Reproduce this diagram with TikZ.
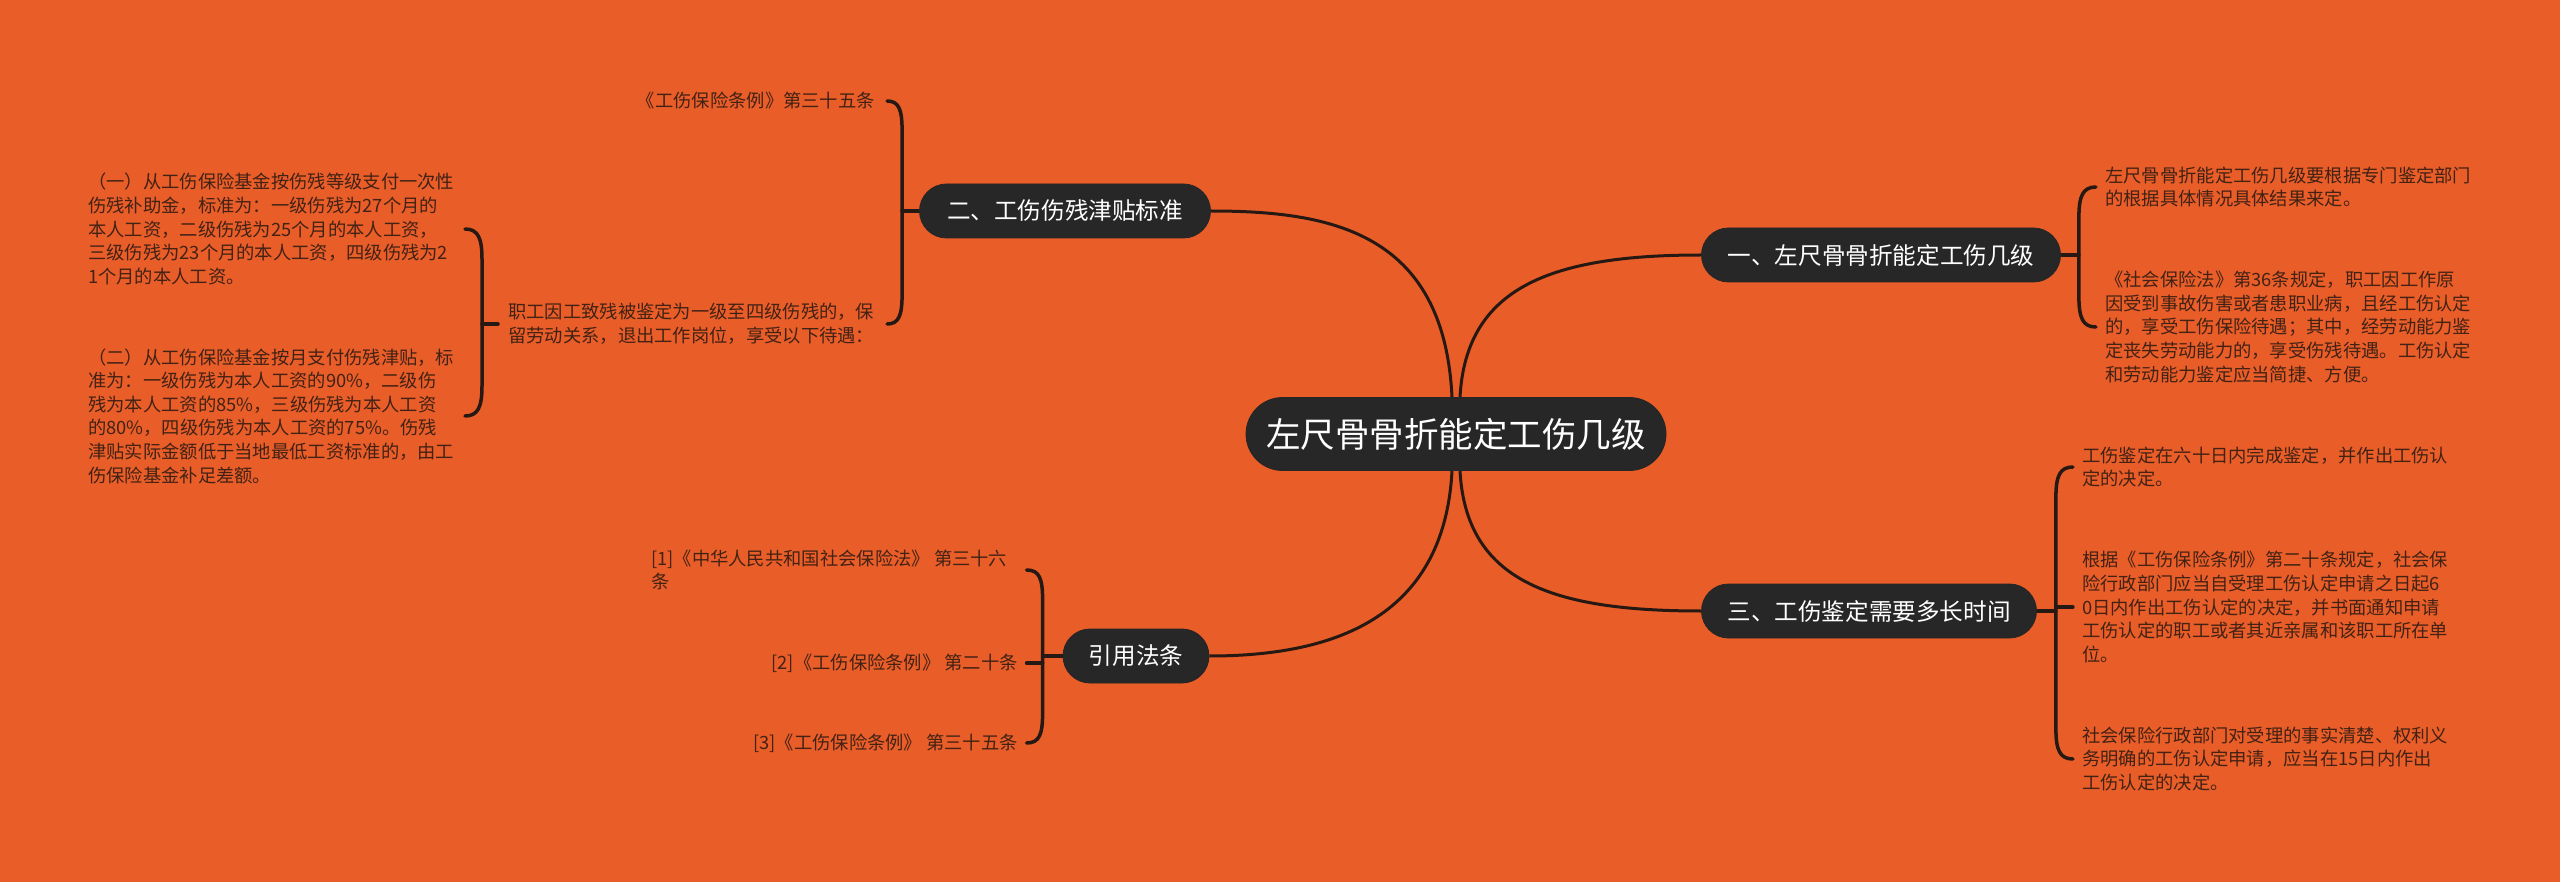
\documentclass[tikz,border=0pt]{standalone}
\usepackage{fontspec}
\setmainfont{Noto Sans CJK SC}
\usetikzlibrary{calc}
\definecolor{bgc}{RGB}{233,93,41}
\definecolor{nodefill}{RGB}{39,39,39}
\definecolor{linec}{RGB}{38,24,18}
\definecolor{leafc}{RGB}{66,34,20}
\pgfdeclarelayer{bglayer}
\pgfdeclarelayer{linelayer}
\pgfsetlayers{bglayer,linelayer,main}
\newcommand{\mmbrace}[4]{%
  \draw[brace] (#1) .. controls ($(#1)+(#4,0)$) and ($(#1)+(#3,9)$) .. ($(#1)+(#3,30)$)
    -- ($(#2)+(#3,-30)$) .. controls ($(#2)+(#3,-9)$) and ($(#2)+(#4,0)$) .. (#2);}
\begin{document}
\begin{tikzpicture}[x=1pt,y=-1pt,
  pill/.style={draw=black!85, line width=0.8pt, fill=nodefill, text=white, inner sep=0pt,
    minimum height=54pt, rounded corners=27pt, font=\fontsize{23.6}{28}\selectfont},
  root/.style={pill, minimum height=73pt, rounded corners=36.5pt, font=\fontsize{34.5}{40}\selectfont},
  leaf/.style={text=leafc, inner sep=0pt, align=left, font=\fontsize{18.3}{23.6}\selectfont},
  link/.style={draw=linec, line width=3pt},
  brace/.style={draw=linec, line width=3.5pt, line cap=round}]
\begin{pgfonlayer}{bglayer}
\fill[bgc] (0,0) rectangle (2560,882);
\end{pgfonlayer}
\useasboundingbox (0,0) rectangle (2560,882);

% main nodes
\node[root, minimum width=420pt] (C) at (1456,434) {左尺骨骨折能定工伤几级};
\node[pill, minimum width=291pt] (B2) at (1065,211) {二、工伤伤残津贴标准};
\node[pill, minimum width=359pt] (B1) at (1881,255) {一、左尺骨骨折能定工伤几级};
\node[pill, minimum width=335pt] (B3) at (1869,611) {三、工伤鉴定需要多长时间};
\node[pill, minimum width=146pt] (B4) at (1136,656) {引用法条};

% branch 1 leaves
\node[leaf, anchor=west] (L11) at (2105,187) {左尺骨骨折能定工伤几级要根据专门鉴定部门\\的根据具体情况具体结果来定。};
\node[leaf, anchor=west] (L12) at (2105,327) {《社会保险法》第36条规定，职工因工作原\\因受到事故伤害或者患职业病，且经工伤认定\\的，享受工伤保险待遇；其中，经劳动能力鉴\\定丧失劳动能力的，享受伤残待遇。工伤认定\\和劳动能力鉴定应当简捷、方便。};

% branch 3 leaves
\node[leaf, anchor=west] (L31) at (2082,467) {工伤鉴定在六十日内完成鉴定，并作出工伤认\\定的决定。};
\node[leaf, anchor=west] (L32) at (2082,607) {根据《工伤保险条例》第二十条规定，社会保\\险行政部门应当自受理工伤认定申请之日起6\\0日内作出工伤认定的决定，并书面通知申请\\工伤认定的职工或者其近亲属和该职工所在单\\位。};
\node[leaf, anchor=west] (L33) at (2082,759) {社会保险行政部门对受理的事实清楚、权利义\\务明确的工伤认定申请，应当在15日内作出\\工伤认定的决定。};

% branch 2 leaves
\node[leaf, anchor=east] (L21) at (875,101) {《工伤保险条例》第三十五条};
\node[leaf, anchor=west] (L22) at (508,324) {职工因工致残被鉴定为一级至四级伤残的，保\\留劳动关系，退出工作岗位，享受以下待遇：};
\node[leaf, anchor=west] (L221) at (88,229) {（一）从工伤保险基金按伤残等级支付一次性\\伤残补助金，标准为：一级伤残为27个月的\\本人工资，二级伤残为25个月的本人工资，\\三级伤残为23个月的本人工资，四级伤残为2\\1个月的本人工资。};
\node[leaf, anchor=west] (L222) at (88,416) {（二）从工伤保险基金按月支付伤残津贴，标\\准为：一级伤残为本人工资的90\%，二级伤\\残为本人工资的85\%，三级伤残为本人工资\\的80\%，四级伤残为本人工资的75\%。伤残\\津贴实际金额低于当地最低工资标准的，由工\\伤保险基金补足差额。};

% branch 4 leaves
\node[leaf, anchor=west] (L41) at (651,570) {[1]《中华人民共和国社会保险法》 第三十六\\条};
\node[leaf, anchor=east] (L42) at (1018,663) {[2]《工伤保险条例》 第二十条};
\node[leaf, anchor=east] (L43) at (1018,743) {[3]《工伤保险条例》 第三十五条};

\begin{pgfonlayer}{linelayer}
% central curves
\draw[link] ($(C.north)+(-4,0)$) .. controls ($(C.north)+(-12,-165)$) and ($(B2.east)+(120,0)$) .. (B2.east);
\draw[link] ($(C.north)+(4,0)$) .. controls ($(C.north)+(10,-110)$) and ($(B1.west)+(-150,0)$) .. (B1.west);
\draw[link] ($(C.south)+(-4,0)$) .. controls ($(C.south)+(-12,150)$) and ($(B4.east)+(120,0)$) .. (B4.east);
\draw[link] ($(C.south)+(4,0)$) .. controls ($(C.south)+(10,110)$) and ($(B3.west)+(-150,0)$) .. (B3.west);

% branch 1 bracket
\coordinate (v1) at ($(B1.east)+(18,0)$);
\coordinate (e11) at ($(L11 -| v1)+(17,0)$);
\coordinate (e12) at ($(L12 -| v1)+(17,0)$);
\draw[brace] (B1.east) -- (v1);
\mmbrace{e11}{e12}{-17}{-13}

% branch 2 bracket
\coordinate (v2) at ($(B2.west)+(-17,0)$);
\coordinate (e21) at ($(L21 -| v2)+(-15,0)$);
\coordinate (e22) at ($(L22 -| v2)+(-15,0)$);
\draw[brace] (B2.west) -- (v2);
\mmbrace{e21}{e22}{15}{12}

% sub bracket under L22
\coordinate (v22) at ($(L22.west)+(-26,0)$);
\coordinate (e221) at ($(L221 -| v22)+(-17,0)$);
\coordinate (e222) at ($(L222 -| v22)+(-17,0)$);
\draw[brace] ($(L22.west)+(-10,0)$) -- (v22);
\mmbrace{e221}{e222}{17}{13}

% branch 3 bracket
\coordinate (v3) at ($(B3.east)+(19,0)$);
\coordinate (e31) at ($(L31 -| v3)+(17,0)$);
\coordinate (e33) at ($(L33 -| v3)+(17,0)$);
\draw[brace] (B3.east) -- (v3);
\draw[brace] (L32 -| v3) -- ($(L32 -| v3)+(17,0)$);
\mmbrace{e31}{e33}{-17}{-13}

% branch 4 bracket
\coordinate (v4) at ($(B4.west)+(-20,0)$);
\coordinate (e41) at ($(L41 -| v4)+(-16,0)$);
\coordinate (e43) at ($(L43 -| v4)+(-16,0)$);
\draw[brace] (B4.west) -- (v4);
\draw[brace] (L42 -| v4) -- ($(L42 -| v4)+(-16,0)$);
\mmbrace{e41}{e43}{16}{13}
\end{pgfonlayer}
\end{tikzpicture}
\end{document}
